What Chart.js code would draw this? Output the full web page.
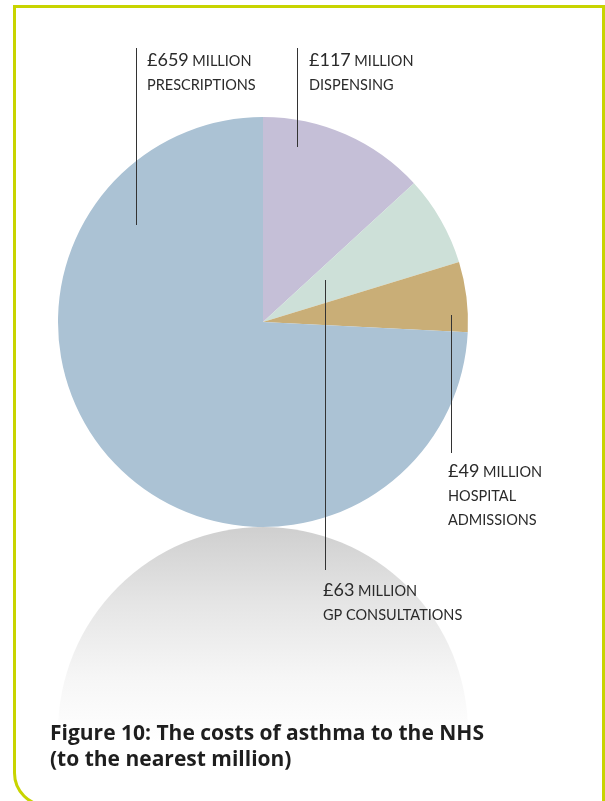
<!DOCTYPE html>
<html>
<head>
<meta charset="utf-8">
<script src="https://cdn.jsdelivr.net/npm/chart.js@4/dist/chart.umd.min.js"></script>
<style>
  html, body { margin: 0; padding: 0; background: #ffffff; }
  body { width: 605px; height: 801px; position: relative; overflow: hidden; }
  #frame {
    position: absolute; left: 13px; top: 5px; width: 586px; height: 796px;
    border: 3px solid #c8d400;
    border-bottom-left-radius: 34px; box-sizing: content-box;
  }
  #wrap { position: absolute; left: 0; top: 0; width: 605px; height: 801px; }
</style>
</head>
<body>
<div id="frame"></div>
<div id="wrap"><canvas id="c" width="605" height="801"></canvas></div>
<script>
// ---- data ----
const categories = ['Dispensing', 'GP consultations', 'Hospital admissions', 'Prescriptions'];
const values = [117, 63, 49, 659];
const amountLabels = ['£117', '£63', '£49', '£659'];
const unitLabel = 'MILLION';
const nameLines = [['DISPENSING'], ['GP CONSULTATIONS'], ['HOSPITAL', 'ADMISSIONS'], ['PRESCRIPTIONS']];
const sliceColors = ['#c5bfd7', '#cde0d8', '#c9ae77', '#abc2d4'];
const titleLines = ['Figure 10: The costs of asthma to the NHS', '(to the nearest million)'];

// ---- annotation layout (pixels) ----
const labelLayout = [
  { lineX: 297, lineTop: 48, lineBottom: 147, textX: 309, textY: 66 },
  { lineX: 325, lineTop: 280, lineBottom: 570, textX: 323, textY: 596 },
  { lineX: 451, lineTop: 315, lineBottom: 453, textX: 448, textY: 477 },
  { lineX: 136, lineTop: 48, lineBottom: 225, textX: 147, textY: 66 }
];

const reflectionPlugin = {
  id: 'reflection',
  beforeDatasetsDraw(chart) {
    const arc = chart.getDatasetMeta(0).data[0];
    if (!arc) return;
    const ctx = chart.ctx;
    const r = arc.outerRadius;
    const cx = arc.x, cy = arc.y + 2 * r;
    ctx.save();
    const g = ctx.createLinearGradient(0, cy - r, 0, cy + 10);
    g.addColorStop(0, '#cfcfcf');
    g.addColorStop(0.35, '#e5e5e5');
    g.addColorStop(0.7, '#f6f6f6');
    g.addColorStop(1, '#ffffff');
    ctx.fillStyle = g;
    ctx.beginPath();
    ctx.arc(cx, cy, r, Math.PI, 2 * Math.PI);
    ctx.lineTo(cx + r, cy + 10);
    ctx.lineTo(cx - r, cy + 10);
    ctx.closePath();
    ctx.fill();
    ctx.restore();
  }
};

const labelPlugin = {
  id: 'labels',
  afterDatasetsDraw(chart) {
    const ctx = chart.ctx;
    ctx.save();
    labelLayout.forEach((L, i) => {
      ctx.strokeStyle = '#333333';
      ctx.lineWidth = 1;
      ctx.beginPath();
      ctx.moveTo(L.lineX + 0.5, L.lineTop);
      ctx.lineTo(L.lineX + 0.5, L.lineBottom);
      ctx.stroke();
      ctx.fillStyle = '#2a2a2a';
      ctx.textBaseline = 'alphabetic';
      ctx.textAlign = 'left';
      ctx.font = '18px Lato';
      ctx.fillText(amountLabels[i], L.textX, L.textY);
      const w = ctx.measureText(amountLabels[i] + ' ').width;
      ctx.font = '14.5px Lato';
      ctx.fillText(unitLabel, L.textX + w - 1, L.textY);
      nameLines[i].forEach((t, k) => {
        ctx.fillText(t, L.textX, L.textY + 24 * (k + 1));
      });
    });
    ctx.fillStyle = '#1e1e1e';
    ctx.font = 'bold 21px "Open Sans"';
    titleLines.forEach((t, k) => ctx.fillText(t, 50, 740 + 26 * k));
    ctx.restore();
  }
};

new Chart(document.getElementById('c'), {
  type: 'pie',
  data: {
    labels: categories,
    datasets: [{
      data: values,
      backgroundColor: sliceColors,
      borderWidth: 0
    }]
  },
  options: {
    responsive: false,
    animation: false,
    layout: { padding: { left: 58, right: 137, top: 117, bottom: 274 } },
    plugins: { legend: { display: false }, tooltip: { enabled: false }, title: { display: false } }
  },
  plugins: [reflectionPlugin, labelPlugin]
});
</script>
</body>
</html>
